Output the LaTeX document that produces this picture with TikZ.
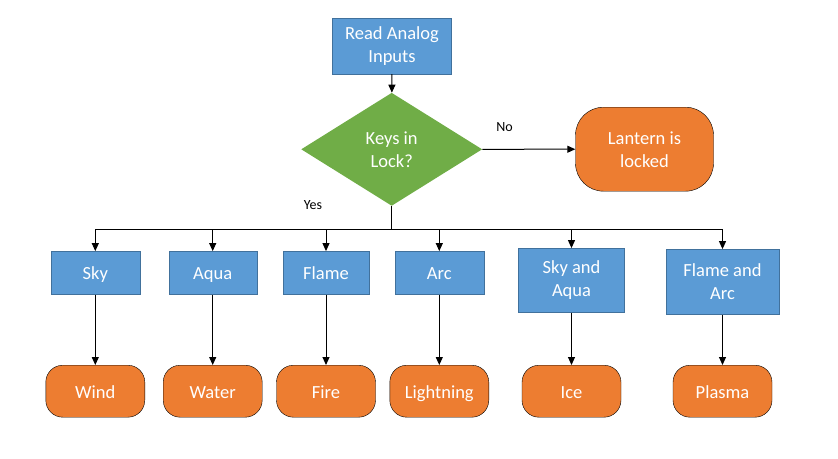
\documentclass[tikz,border=0pt]{standalone}
\usepackage{fontspec}
\setmainfont{Carlito}
\usetikzlibrary{shapes.geometric,arrows.meta}

\definecolor{boxblue}{HTML}{5B9BD5}
\definecolor{boxedge}{HTML}{41719C}
\definecolor{keygreen}{HTML}{70AD47}
\definecolor{endorange}{HTML}{ED7D31}

\tikzset{
  stepbox/.style={draw=boxedge,fill=boxblue,text=white,align=center,
    font=\fontsize{18.5}{23}\selectfont,inner sep=0pt,minimum height=43pt},
  endbox/.style={draw=black,fill=endorange,text=white,align=center,
    font=\fontsize{18.5}{23}\selectfont,rounded corners=17pt,inner sep=0pt,
    minimum width=99pt,minimum height=52pt},
  oneline/.style={text height=14pt,text depth=0pt},
  flow/.style={line width=1pt,-{Triangle[length=8pt,width=7pt]}},
  lbl/.style={font=\fontsize{14}{16}\selectfont}
}

\begin{document}
\begin{tikzpicture}[x=1pt,y=-1pt]
  \useasboundingbox (0,0) rectangle (838,458);

  \node [stepbox,minimum width=119pt,minimum height=56pt] (read) at (392,46) {Read Analog\\Inputs};
  \node [diamond,fill=keygreen,text=white,align=center,inner sep=0pt,aspect=1.6,
    minimum width=181pt,minimum height=113pt,font=\fontsize{18.5}{23}\selectfont] (keys) at (391.7,149.3) {Keys in\\Lock?};
  \node [endbox,minimum width=138pt,minimum height=84pt,rounded corners=28pt] (lantern) at (644.5,149.2) {Lantern is\\locked};

  % the six elements
  \node [stepbox,oneline,minimum width=89pt] (sky) at (95.3,272.8) {Sky};
  \node [stepbox,oneline,minimum width=88pt] (aqua) at (212.7,272.8) {Aqua};
  \node [stepbox,oneline,minimum width=86pt] (flame) at (326,272.8) {Flame};
  \node [stepbox,oneline,minimum width=89pt] (arc) at (439.3,272.8) {Arc};
  \node [stepbox,minimum width=106pt,minimum height=64pt] (skyaqua) at (571.5,280.3) {Sky and\\Aqua};
  \node [stepbox,minimum width=113pt,minimum height=65pt] (flamearc) at (722.5,281.8) {Flame and\\Arc};

  \node [endbox,oneline] (wind) at (95.3,391.2) {Wind};
  \node [endbox,oneline] (water) at (212.7,391.2) {Water};
  \node [endbox,oneline] (fire) at (326,391.2) {Fire};
  \node [endbox,oneline] (lightning) at (439.3,391.2) {Lightning};
  \node [endbox,oneline] (ice) at (571.5,391.2) {Ice};
  \node [endbox,oneline] (plasma) at (722.5,391.2) {Plasma};

  \coordinate (bus) at (391.7,229);

  \draw [flow] (read) -- (keys);
  \draw [flow] (keys) -- node[lbl,above,pos=0.24,yshift=14pt] {No} (lantern);
  \draw [line width=1.5pt] (keys.south) -- (bus);
  \node [lbl] (yes) at (313,205) {Yes};

  \draw [flow] (bus) -| (sky.north);
  \draw [flow] (bus) -| (aqua.north);
  \draw [flow] (bus) -| (flame.north);
  \draw [flow] (bus) -| (arc.north);
  \draw [flow] (bus) -| (skyaqua.north);
  \draw [flow] (bus) -| (flamearc.north);

  \draw [flow] (sky) -- (wind);
  \draw [flow] (aqua) -- (water);
  \draw [flow] (flame) -- (fire);
  \draw [flow] (arc) -- (lightning);
  \draw [flow] (skyaqua) -- (ice);
  \draw [flow] (flamearc) -- (plasma);
\end{tikzpicture}
\end{document}
